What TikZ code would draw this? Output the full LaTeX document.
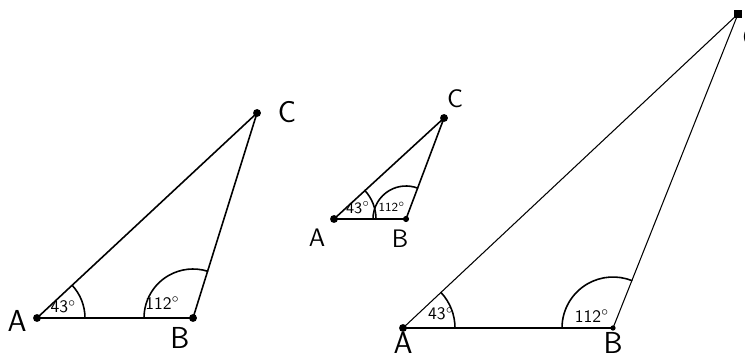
\documentclass[tikz,border=0pt]{standalone}
\usetikzlibrary{positioning}

\tikzset{
  side/.style={line width=0.9pt},
  dot/.style={circle,fill,inner sep=0pt,minimum size=4.5pt},
  vlabel/.style={font=\sffamily\LARGE},
  alabel/.style={font=\sffamily\normalsize},
}

\begin{document}
\begin{tikzpicture}[line cap=round,line join=round]
  \useasboundingbox (0,0) rectangle (14.9,7.16);
  % left triangle
  \coordinate (A1) at (0.74,0.80);
  \coordinate (B1) at (3.86,0.80);
  \coordinate (C1) at (5.14,4.90);
  \draw[side] (A1)--(B1)--(C1)--cycle;
  \node[dot] (dA1) at (A1) {}; \node[dot] (dB1) at (B1) {}; \node[dot] (dC1) at (C1) {};
  \draw[side] ([shift={(0:0.96)}]A1) arc[start angle=0,end angle=43,radius=0.96];
  \draw[side] ([shift={(180:0.98)}]B1) arc[start angle=180,end angle=72.7,radius=0.98];
  \node[vlabel] (lA1) at (0.34,0.74) {A};
  \node[vlabel] (lB1) at (3.60,0.40) {B};
  \node[vlabel] (lC1) at (5.74,4.92) {C};
  \node[alabel] (a43a) at (1.27,1.02) {43$^\circ$};
  \node[alabel] (a112a) at (3.25,1.10) {112$^\circ$};
  % small triangle
  \coordinate (A2) at (6.68,2.78);
  \coordinate (B2) at (8.12,2.78);
  \coordinate (C2) at (8.88,4.80);
  \draw[side] (A2)--(B2)--(C2)--cycle;
  \node[dot] (dA2) at (A2) {}; \node[dot,minimum size=3.5pt] (dB2) at (B2) {}; \node[dot] (dC2) at (C2) {};
  \draw[side] ([shift={(0:0.84)}]A2) arc[start angle=0,end angle=43,radius=0.84];
  \draw[side] ([shift={(180:0.66)}]B2) arc[start angle=180,end angle=69.4,radius=0.66];
  \node[vlabel,font=\sffamily\Large] (lA2) at (6.34,2.40) {A};
  \node[vlabel,font=\sffamily\Large] (lB2) at (8.00,2.38) {B};
  \node[vlabel,font=\sffamily\Large] (lC2) at (9.10,5.18) {C};
  \node[alabel,font=\sffamily\small] (a43b) at (7.16,3.00) {43$^\circ$};
  \node[alabel,font=\sffamily\scriptsize] (a112b) at (7.84,3.03) {112$^\circ$};
  % big triangle
  \coordinate (A3) at (8.06,0.60);
  \coordinate (B3) at (12.26,0.60);
  \coordinate (C3) at (14.76,6.88);
  \draw[side] (A3)--(B3);
  \draw[line width=0.6pt] (A3)--(C3)--(B3);
  \node[dot] (dA3) at (A3) {}; \node[dot,minimum size=3pt] (dB3) at (B3) {};
  \node[rectangle,fill,inner sep=0pt,minimum size=4.5pt] (dC3) at (C3) {};
  \draw[side] ([shift={(0:1.04)}]A3) arc[start angle=0,end angle=43,radius=1.04];
  \draw[side] ([shift={(180:1.02)}]B3) arc[start angle=180,end angle=68.3,radius=1.02];
  \node[vlabel] (lA3) at (8.06,0.30) {A};
  \node[vlabel] (lB3) at (12.26,0.30) {B};
  \node[vlabel,anchor=west] (lC3) at (14.72,6.42) {C};
  \node[alabel] (a43c) at (8.82,0.88) {43$^\circ$};
  \node[alabel] (a112c) at (11.84,0.84) {112$^\circ$};
\end{tikzpicture}
\end{document}
